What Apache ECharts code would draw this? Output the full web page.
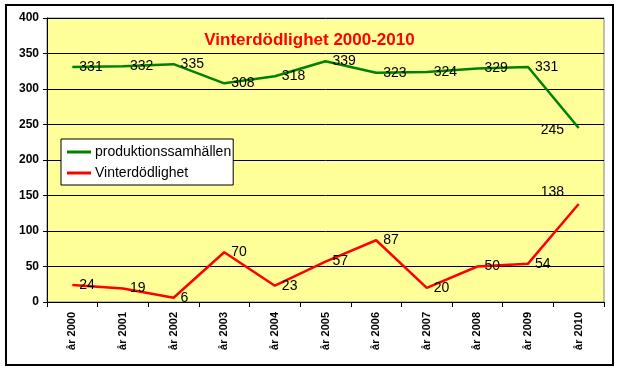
<!DOCTYPE html>
<html><head><meta charset="utf-8">
<script src="https://cdn.jsdelivr.net/npm/echarts@6/dist/echarts.min.js"></script>
<style>html,body{margin:0;padding:0;background:#fff}#c{width:619px;height:370px}</style>
</head><body><div id="c"></div>
<script>
const categories = ['år 2000','år 2001','år 2002','år 2003','år 2004','år 2005','år 2006','år 2007','år 2008','år 2009','år 2010'];
const produktion = [331,332,335,308,318,339,323,324,329,331,245];
const vinter = [24,19,6,70,23,57,87,20,50,54,138];
const yTicks = {min:0, max:400, interval:50};
const FF = 'Arial, "Liberation Sans", sans-serif';

function mkData(arr, lastPos){
  return arr.map((v,i)=> i===arr.length-1 ? {value:v, label:{position:lastPos}} : v);
}

const chart = echarts.init(document.getElementById('c'), null, {renderer:'canvas'});
chart.setOption({
  animation:false,
  backgroundColor:'#fff',
  title:{text:'Vinterdödlighet 2000-2010', left:'center', top:27,
    textStyle:{color:'#FF0000', fontWeight:'bold', fontSize:17, fontFamily:FF}},
  graphic:[{type:'rect', shape:{x:6,y:5,width:607,height:360}, style:{fill:'none', stroke:'#000', lineWidth:2}, silent:true}],
  grid:{left:47, top:18, right:15, bottom:68, show:true, backgroundColor:'#FFFF99', borderColor:'#808080', borderWidth:1},
  legend:{left:61, top:139, orient:'vertical', backgroundColor:'#fff', borderColor:'#000', borderWidth:1,
    padding:[6,2,5,6], itemGap:7, itemWidth:24, itemHeight:3, icon:'rect',
    textStyle:{fontFamily:FF, fontSize:14, color:'#000', padding:[0,0,0,-1]},
    data:['produktionssamhällen','Vinterdödlighet']},
  xAxis:{type:'category', data:categories, boundaryGap:true,
    axisLine:{lineStyle:{color:'#000', width:1}},
    axisTick:{show:true, length:5, lineStyle:{color:'#000'}},
    axisLabel:{rotate:90, margin:10, fontFamily:FF, fontSize:11, fontWeight:'bold', color:'#000'}},
  yAxis:{type:'value', min:yTicks.min, max:yTicks.max, interval:yTicks.interval,
    axisLine:{show:true, lineStyle:{color:'#000'}},
    axisTick:{show:true, length:4, lineStyle:{color:'#000'}},
    axisLabel:{margin:8, fontFamily:FF, fontSize:12, fontWeight:'bold', color:'#000'},
    splitLine:{lineStyle:{color:'#000', width:1}}},
  series:[
    {name:'produktionssamhällen', type:'line', data:mkData(produktion,[-38,-5]), symbol:'circle', symbolSize:0, showSymbol:true,
      lineStyle:{color:'#008000', width:2.5}, itemStyle:{color:'#008000'},
      label:{show:true, position:'right', distance:7, fontFamily:FF, fontSize:14, color:'#000'}, labelLayout:{hideOverlap:false}},
    {name:'Vinterdödlighet', type:'line', data:mkData(vinter,[-38,-19]), symbol:'circle', symbolSize:0, showSymbol:true,
      lineStyle:{color:'#FF0000', width:2.5}, itemStyle:{color:'#FF0000'},
      label:{show:true, position:'right', distance:7, fontFamily:FF, fontSize:14, color:'#000'}, labelLayout:{hideOverlap:false}}
  ]
});
</script></body></html>
